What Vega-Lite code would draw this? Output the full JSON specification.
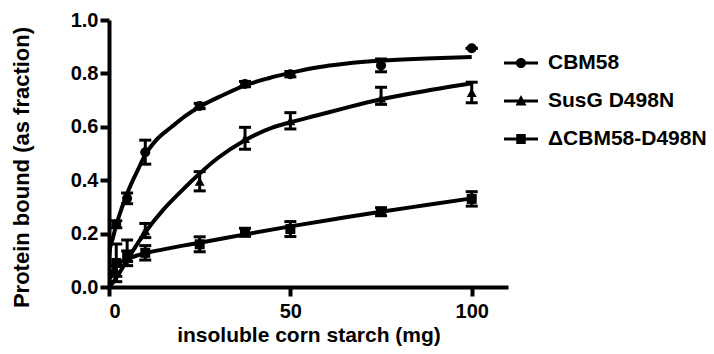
{
  "$schema": "https://vega.github.io/schema/vega-lite/v6.json",
  "autosize": {"type": "none"},
  "padding": {"left": 109, "top": 20, "right": 206, "bottom": 67},
  "width": 399,
  "height": 267,
  "background": "white",
  "config": {
    "view": {"stroke": null},
    "font": "Liberation Sans",
    "axis": {
      "grid": false,
      "domainColor": "black",
      "domainWidth": 4,
      "tickColor": "black",
      "tickWidth": 4,
      "tickSize": 9,
      "labelFont": "Liberation Sans",
      "labelFontWeight": "bold",
      "labelFontSize": 20,
      "labelColor": "black",
      "titleFont": "Liberation Sans",
      "titleFontWeight": "bold",
      "titleFontSize": 21,
      "titleColor": "black"
    }
  },
  "resolve": {"scale": {"shape": "independent"}, "legend": {"shape": "independent"}},
  "datasets": {
    "pts": [
      {"series": "CBM58", "x": 2, "y": 0.235, "lo": 0.222, "hi": 0.248},
      {"series": "CBM58", "x": 5, "y": 0.332, "lo": 0.312, "hi": 0.352},
      {"series": "CBM58", "x": 10, "y": 0.505, "lo": 0.46, "hi": 0.55},
      {"series": "CBM58", "x": 25, "y": 0.678, "lo": 0.668, "hi": 0.688},
      {"series": "CBM58", "x": 37.5, "y": 0.76, "lo": 0.75, "hi": 0.77},
      {"series": "CBM58", "x": 50, "y": 0.797, "lo": 0.787, "hi": 0.807},
      {"series": "CBM58", "x": 75, "y": 0.83, "lo": 0.806, "hi": 0.854},
      {"series": "CBM58", "x": 100, "y": 0.894, "lo": 0.894, "hi": 0.894},
      {"series": "SusG D498N", "x": 2, "y": 0.06, "lo": 0.04, "hi": 0.08},
      {"series": "SusG D498N", "x": 5, "y": 0.115, "lo": 0.095, "hi": 0.135},
      {"series": "SusG D498N", "x": 10, "y": 0.21, "lo": 0.185, "hi": 0.238},
      {"series": "SusG D498N", "x": 25, "y": 0.395, "lo": 0.36, "hi": 0.432},
      {"series": "SusG D498N", "x": 37.5, "y": 0.556, "lo": 0.516, "hi": 0.598},
      {"series": "SusG D498N", "x": 50, "y": 0.622, "lo": 0.592, "hi": 0.653},
      {"series": "SusG D498N", "x": 75, "y": 0.707, "lo": 0.684, "hi": 0.748},
      {"series": "SusG D498N", "x": 100, "y": 0.728, "lo": 0.69, "hi": 0.767},
      {"series": "ΔCBM58-D498N", "x": 2, "y": 0.09, "lo": 0.02, "hi": 0.161},
      {"series": "ΔCBM58-D498N", "x": 5, "y": 0.115, "lo": 0.08, "hi": 0.176},
      {"series": "ΔCBM58-D498N", "x": 10, "y": 0.128, "lo": 0.101, "hi": 0.155},
      {"series": "ΔCBM58-D498N", "x": 25, "y": 0.16, "lo": 0.132, "hi": 0.188},
      {"series": "ΔCBM58-D498N", "x": 37.5, "y": 0.205, "lo": 0.19, "hi": 0.22},
      {"series": "ΔCBM58-D498N", "x": 50, "y": 0.217, "lo": 0.189, "hi": 0.245},
      {"series": "ΔCBM58-D498N", "x": 75, "y": 0.282, "lo": 0.267, "hi": 0.297},
      {"series": "ΔCBM58-D498N", "x": 100, "y": 0.33, "lo": 0.303, "hi": 0.357}
    ],
    "fit": [
      {"series": "CBM58", "x": 0, "fit": 0.1},
      {"series": "CBM58", "x": 0.3, "fit": 0.145},
      {"series": "CBM58", "x": 1, "fit": 0.18},
      {"series": "CBM58", "x": 2, "fit": 0.232},
      {"series": "CBM58", "x": 3.5, "fit": 0.295},
      {"series": "CBM58", "x": 5, "fit": 0.35},
      {"series": "CBM58", "x": 6.6, "fit": 0.4},
      {"series": "CBM58", "x": 8, "fit": 0.44},
      {"series": "CBM58", "x": 10, "fit": 0.495},
      {"series": "CBM58", "x": 13, "fit": 0.55},
      {"series": "CBM58", "x": 17.3, "fit": 0.6},
      {"series": "CBM58", "x": 21, "fit": 0.64},
      {"series": "CBM58", "x": 25, "fit": 0.675},
      {"series": "CBM58", "x": 31.5, "fit": 0.719},
      {"series": "CBM58", "x": 37.5, "fit": 0.755},
      {"series": "CBM58", "x": 44, "fit": 0.782},
      {"series": "CBM58", "x": 50, "fit": 0.802},
      {"series": "CBM58", "x": 57.7, "fit": 0.823},
      {"series": "CBM58", "x": 65, "fit": 0.836},
      {"series": "CBM58", "x": 75, "fit": 0.848},
      {"series": "CBM58", "x": 87.5, "fit": 0.856},
      {"series": "CBM58", "x": 100, "fit": 0.861},
      {"series": "SusG D498N", "x": 0, "fit": 0},
      {"series": "SusG D498N", "x": 1, "fit": 0.015},
      {"series": "SusG D498N", "x": 2.5, "fit": 0.045},
      {"series": "SusG D498N", "x": 5, "fit": 0.1},
      {"series": "SusG D498N", "x": 7.5, "fit": 0.155},
      {"series": "SusG D498N", "x": 10, "fit": 0.205},
      {"series": "SusG D498N", "x": 15, "fit": 0.29},
      {"series": "SusG D498N", "x": 20, "fit": 0.36},
      {"series": "SusG D498N", "x": 25, "fit": 0.425},
      {"series": "SusG D498N", "x": 30, "fit": 0.483},
      {"series": "SusG D498N", "x": 37.5, "fit": 0.55},
      {"series": "SusG D498N", "x": 45, "fit": 0.597},
      {"series": "SusG D498N", "x": 50, "fit": 0.617},
      {"series": "SusG D498N", "x": 57.7, "fit": 0.644},
      {"series": "SusG D498N", "x": 65, "fit": 0.67},
      {"series": "SusG D498N", "x": 75, "fit": 0.703},
      {"series": "SusG D498N", "x": 87.5, "fit": 0.735},
      {"series": "SusG D498N", "x": 100, "fit": 0.763},
      {"series": "ΔCBM58-D498N", "x": 0.3, "fit": 0.03},
      {"series": "ΔCBM58-D498N", "x": 1, "fit": 0.06},
      {"series": "ΔCBM58-D498N", "x": 2, "fit": 0.08},
      {"series": "ΔCBM58-D498N", "x": 3.5, "fit": 0.095},
      {"series": "ΔCBM58-D498N", "x": 5, "fit": 0.105},
      {"series": "ΔCBM58-D498N", "x": 7.5, "fit": 0.117},
      {"series": "ΔCBM58-D498N", "x": 10, "fit": 0.127},
      {"series": "ΔCBM58-D498N", "x": 15, "fit": 0.141},
      {"series": "ΔCBM58-D498N", "x": 20, "fit": 0.154},
      {"series": "ΔCBM58-D498N", "x": 25, "fit": 0.166},
      {"series": "ΔCBM58-D498N", "x": 37.5, "fit": 0.197},
      {"series": "ΔCBM58-D498N", "x": 50, "fit": 0.227},
      {"series": "ΔCBM58-D498N", "x": 62.5, "fit": 0.255},
      {"series": "ΔCBM58-D498N", "x": 75, "fit": 0.282},
      {"series": "ΔCBM58-D498N", "x": 87.5, "fit": 0.307},
      {"series": "ΔCBM58-D498N", "x": 100, "fit": 0.332}
    ]
  },
  "encoding": {
    "x": {
      "field": "x", "type": "quantitative",
      "scale": {"domain": [0, 110], "nice": false, "zero": false},
      "axis": {"values": [0, 50, 100], "title": "insoluble corn starch (mg)", "labelPadding": 5, "titlePadding": 3}
    }
  },
  "layer": [
    {
      "data": {"name": "fit"},
      "mark": {"type": "line", "color": "black", "strokeWidth": 4, "opacity": 1, "interpolate": "monotone", "clip": true},
      "encoding": {
        "y": {"field": "fit", "type": "quantitative", "scale": {"domain": [0, 1], "nice": false},
          "axis": {"values": [0, 0.2, 0.4, 0.6, 0.8, 1.0], "format": ".1f", "title": "Protein bound (as fraction)", "titleFontSize": 22, "labelPadding": 2, "titleX": -88, "titleY": 147, "titleAngle": 270, "titleAlign": "center", "titleBaseline": "middle"}},
        "detail": {"field": "series"}
      }
    },
    {
      "data": {"name": "pts"},
      "mark": {"type": "rule", "color": "black", "strokeWidth": 3, "opacity": 1},
      "encoding": {
        "y": {"field": "lo", "type": "quantitative"},
        "y2": {"field": "hi"}
      }
    },
    {
      "data": {"name": "pts"},
      "mark": {"type": "tick", "orient": "horizontal", "color": "black", "opacity": 1, "size": 12, "thickness": 3},
      "encoding": {"y": {"field": "lo", "type": "quantitative"}}
    },
    {
      "data": {"name": "pts"},
      "mark": {"type": "tick", "orient": "horizontal", "color": "black", "opacity": 1, "size": 12, "thickness": 3},
      "encoding": {"y": {"field": "hi", "type": "quantitative"}}
    },
    {
      "data": {"name": "pts"},
      "mark": {"type": "point", "filled": true, "color": "black", "opacity": 1, "size": 100},
      "encoding": {
        "y": {"field": "y", "type": "quantitative"},
        "shape": {
          "field": "series", "type": "nominal",
          "scale": {"domain": ["CBM58", "SusG D498N", "ΔCBM58-D498N"], "range": ["circle", "triangle-up", "square"]},
          "legend": null
        }
      }
    },
    {
      "data": {"name": "pts"},
      "mark": {"type": "point", "filled": true, "color": "black", "opacity": 1, "size": 0},
      "encoding": {
        "y": {"field": "y", "type": "quantitative"},
        "shape": {
          "field": "series", "type": "nominal",
          "scale": {"domain": ["CBM58", "SusG D498N", "ΔCBM58-D498N"], "range": [
            "M-1,-0.09H1V0.09H-1ZM-0.3,0A0.3,0.3 0 1,1 0.3,0A0.3,0.3 0 1,1 -0.3,0Z",
            "M-1,-0.09H1V0.09H-1ZM0,-0.36L0.32,0.26L-0.32,0.26Z",
            "M-1,-0.09H1V0.09H-1ZM-0.28,-0.3H0.28V0.3H-0.28Z"
          ]},
          "legend": {
            "title": null,
            "orient": "none",
            "legendX": 394,
            "legendY": 26,
            "padding": 0,
            "symbolSize": 1156,
            "symbolFillColor": "black",
            "symbolOpacity": 1,
            "labelFont": "Liberation Sans",
            "labelFontWeight": "bold",
            "labelFontSize": 21,
            "labelColor": "black",
            "labelOffset": 9,
            "clipHeight": 34,
            "rowPadding": 4
          }
        }
      }
    }
  ]
}
